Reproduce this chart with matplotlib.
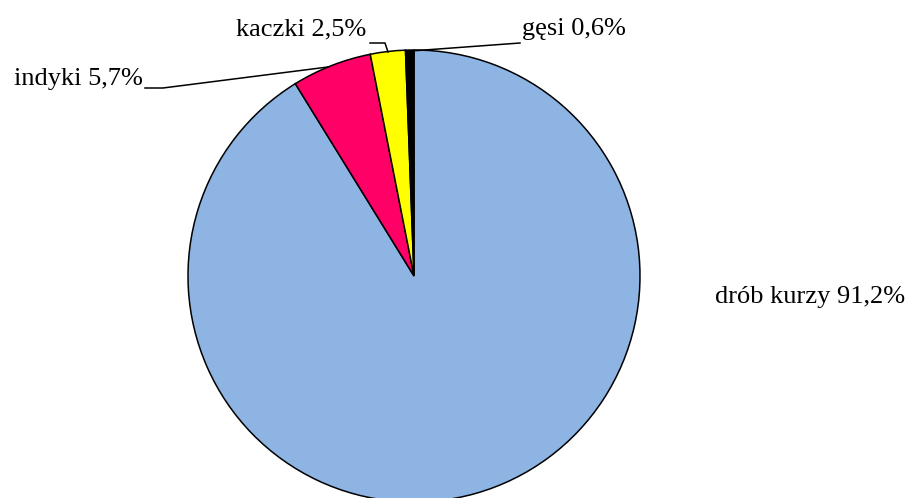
import matplotlib
matplotlib.use("Agg")
import matplotlib.pyplot as plt

categories = ["drób kurzy", "indyki", "kaczki", "gęsi"]
values = [91.2, 5.7, 2.5, 0.6]
labels = ["drób kurzy 91,2%", "indyki 5,7%", "kaczki 2,5%", "gęsi 0,6%"]
colors = ["#8EB4E3", "#FF0066", "#FFFF00", "#000000"]

W, H = 909, 498
fig = plt.figure(figsize=(W / 100, H / 100), dpi=100)
ax = fig.add_axes([0, 0, 1, 1])

def py(y):
    return H - y

ax.pie(values, colors=colors, startangle=90, counterclock=False,
       center=(414, py(276)), radius=226,
       wedgeprops=dict(edgecolor="black", linewidth=1.1))
ax.set_xlim(0, W)
ax.set_ylim(0, H)
ax.set_aspect("auto")
ax.axis("off")

font = dict(family="Liberation Serif", fontsize=19, color="black")

# drób kurzy
ax.text(715, py(297), labels[0], ha="left", va="center", **font)
# indyki
ax.text(143, py(79), labels[1], ha="right", va="center", **font)
ax.plot([145, 163, 328], [py(88), py(88), py(67)], color="black", lw=1.1)
# kaczki
ax.text(366, py(29), labels[2], ha="right", va="center", **font)
ax.plot([370, 385, 388], [py(43), py(43), py(52)], color="black", lw=1.1)
# gęsi
ax.text(522, py(29), labels[3], ha="left", va="center", **font)
ax.plot([520, 411], [py(43), py(51)], color="black", lw=1.1)

fig.savefig("out.png", dpi=100)
